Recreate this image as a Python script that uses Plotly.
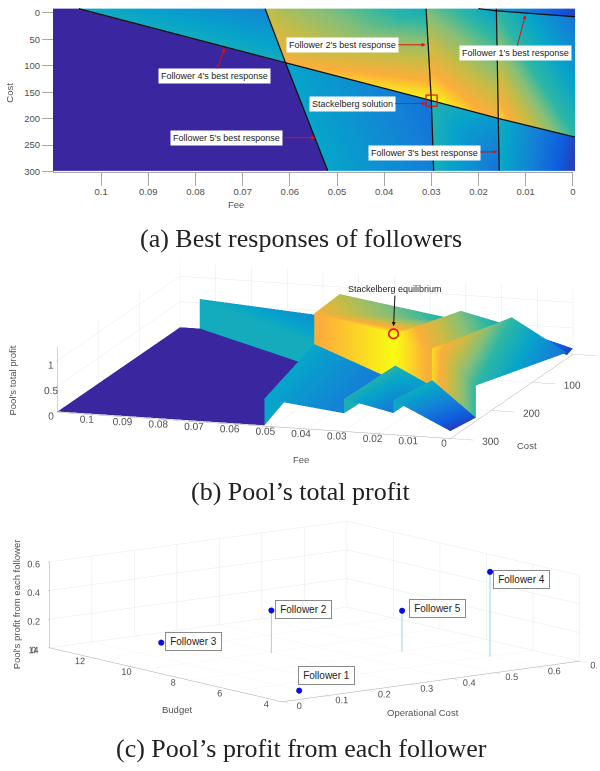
import plotly.graph_objects as go

# --- Regions of the (fee, cost) plane: corner readings of fee, cost, height, colour level
REGIONS = {
    "none":  dict(fee=[.11, .1045, .061, .0521, .11], cost=[0, 0, 100, 300, 300], z=[0, 0, 0, 0, 0], c=[0, 0, 0, 0, 0]),
    "r1":    dict(fee=[.1045, .0653, .061], cost=[0, 0, 100], z=[.58, .39, .48], c=[.42, .27, .42]),
    "r2":    dict(fee=[.0314, .0303, .061, .0653], cost=[0, 170, 100, 0], z=[.5, 1.18, 1.05, .86], c=[.42, 1.0, .86, .72]),
    "r3":    dict(fee=[.0166, .0162, .0303, .0314], cost=[0, 203, 170, 0], z=[.45, 1.0, 1.18, .69], c=[.36, .85, 1.0, .6]),
    "r4":    dict(fee=[.0166, 0, 0, .0162], cost=[5, 15, 237.7, 203], z=[.66, .1, .68, 1.14], c=[.5, .2, .5, .95]),
    "r5":    dict(fee=[.0166, 0, 0, .0166], cost=[0, 0, 15, 5], z=[.42, .1, .05, .4], c=[.35, .08, .05, .33]),
    "r6":    dict(fee=[.061, .0303, .0298, .0521], cost=[100, 170, 300, 300], z=[.45, .26, .34, .52], c=[.38, .2, .24, .38]),
    "r7":    dict(fee=[.0303, .0162, .016, .0298], cost=[170, 203, 300, 300], z=[.56, .4, .41, .62], c=[.47, .33, .2, .44]),
    "r8":    dict(fee=[.0162, 0, 0, .016], cost=[203, 237.7, 300, 300], z=[.52, .05, .13, .66], c=[.43, .08, .05, .4]),
}
# Vertical jumps between regions: fee, cost, top, bottom, colour level
WALLS = [
    dict(fee=[.1045, .061], cost=[0, 100], top=[.58, .48], bot=[0, 0], c=[.42, .42]),
    dict(fee=[.0653, .061], cost=[0, 100], top=[.86, 1.05], bot=[.39, .48], c=[.72, .86]),
    dict(fee=[.061, .0303], cost=[100, 170], top=[1.05, 1.18], bot=[.45, .26], c=[.86, 1.0]),
    dict(fee=[.0303, .0162], cost=[170, 203], top=[1.18, 1.0], bot=[.56, .4], c=[1.0, .85]),
    dict(fee=[.0162, 0], cost=[203, 237.7], top=[1.14, .68], bot=[.52, .05], c=[.95, .5]),
    dict(fee=[.061, .0521], cost=[100, 300], top=[.45, .52], bot=[0, 0], c=[.38, .38]),
    dict(fee=[.0303, .0298], cost=[170, 300], top=[.56, .62], bot=[.26, .34], c=[.47, .44]),
    dict(fee=[.0162, .016], cost=[203, 300], top=[.52, .66], bot=[.4, .41], c=[.43, .4]),
    dict(fee=[.0314, .0303], cost=[0, 170], top=[.69, 1.18], bot=[.5, 1.18], c=[.6, 1.0]),
    dict(fee=[.0166, .0162], cost=[5, 203], top=[.66, 1.14], bot=[.45, 1.0], c=[.5, .95]),
]
# Best-response curves
F1_FEE = [.0204, .0166, 0];               F1_COST = [0, 4, 15]
F2_FEE = [.0314, .0303, .0298];           F2_COST = [0, 170, 300]
F3_FEE = [.0166, .0162, .016];            F3_COST = [0, 203, 300]
F4_FEE = [.1045, .061, .0303, .0162, 0];  F4_COST = [0, 100, 170, 203, 237.7]
F5_FEE = [.0653, .061, .0521];            F5_COST = [0, 100, 300]
BEST_RESPONSES = [(F1_FEE, F1_COST), (F2_FEE, F2_COST), (F3_FEE, F3_COST), (F4_FEE, F4_COST), (F5_FEE, F5_COST)]
SOL_FEE = .0303; SOL_COST = 170; SOL_PROFIT = 1.18
# Marker in (b) nudged along the line of sight so the ring stays in front of the relief
EQ_FEE = .0296; EQ_COST = 181.2; EQ_PROFIT = 1.249

# Tick labels
FEE_TICKS = [.1, .09, .08, .07, .06, .05, .04, .03, .02, .01, 0]
FEE_TEXT = ["0.1", "0.09", "0.08", "0.07", "0.06", "0.05", "0.04", "0.03", "0.02", "0.01", "0"]

# Panel (a) labels: text, fee, cost at the arrow tip
LABELS_A = [
    ("Follower 1's best response", .0105, 12, -10, 38),
    ("Follower 2's best response", .0315, 66.7, -83, 0),
    ("Follower 3's best response", .0164, 264, -73, 1),
    ("Follower 4's best response", .0738, 73, -10, 28),
    ("Follower 5's best response", .0547, 238, -89, 0),
    ("Stackelberg solution", .0314, 175, -74, 0),
]
# Panel (c)
FOLLOWERS = ["Follower 1", "Follower 2", "Follower 3", "Follower 4", "Follower 5"]
OP_COST = [.097, .295, .199, .596, .498]
BUDGET = [5.04, 9.85, 12.83, 5.95, 7.94]
PROFIT = [0, .298, 0, .593, .286]

PARULA = [[0, "#3a27a0"], [.125, "#0f5cdd"], [.25, "#1481d6"], [.375, "#06a4ca"], [.5, "#2eb7a4"],
          [.625, "#87bf77"], [.75, "#c8bc45"], [.875, "#fcae3a"], [1, "#fafb12"]]
GREY = "#505050"
LINE = "#a8a8a8"
GRID = "#e9e9e9"
SANS = "Liberation Sans"
FLAT = dict(ambient=1, diffuse=0, specular=0, roughness=1, fresnel=0)


def mesh(polys, scene):
    x, y, z, c, i, j, k = [], [], [], [], [], [], []
    for p in polys:
        n0 = len(x)
        x += p["fee"]; y += p["cost"]; z += p["z"]; c += p["c"]
        for t in range(1, len(p["fee"]) - 1):
            i.append(n0); j.append(n0 + t); k.append(n0 + t + 1)
    return go.Mesh3d(x=x, y=y, z=z, i=i, j=j, k=k, intensity=c, intensitymode="vertex", colorscale=PARULA,
                     cmin=0, cmax=1, showscale=False, lighting=FLAT, flatshading=False, hoverinfo="skip", scene=scene)


def px_note(text, x, y, size=9.5, angle=0, color=GREY, family=SANS):
    return dict(text=text, x=x / 600, y=1 - y / 771, xref="paper", yref="paper", showarrow=False, xanchor="center",
                yanchor="middle", textangle=angle, font=dict(size=size, color=color, family=family))


def camera(view, centre, up=(0, 0, 1)):
    # the eye moves with the centre, so the line of sight stays the same
    return dict(eye=dict(x=centre[0] + view[0], y=centre[1] + view[1], z=centre[2] + view[2]),
                center=dict(x=centre[0], y=centre[1], z=centre[2]), up=dict(x=up[0], y=up[1], z=up[2]),
                projection=dict(type="orthographic"))


fig = go.Figure()

# (a) flat map
flat = [dict(fee=r["fee"], cost=r["cost"], z=[0] * len(r["fee"]), c=r["c"]) for r in REGIONS.values()]
fig.add_trace(mesh(flat, "scene"))
for fx, fy in BEST_RESPONSES:
    fig.add_trace(go.Scatter3d(x=fx, y=fy, z=[.5] * len(fx), mode="lines", line=dict(color="#111111", width=2.5),
                               hoverinfo="skip", scene="scene", showlegend=False))
fig.add_trace(go.Scatter3d(x=[SOL_FEE], y=[SOL_COST], z=[.6], mode="markers", scene="scene", showlegend=False,
                           marker=dict(symbol="square-open", size=5, color="#e01010", line=dict(color="#e01010", width=2))))
# axes for (a)
fig.add_trace(go.Scatter(x=[None], y=[None], showlegend=False, hoverinfo="skip"))

# (b) relief
polys = [dict(r) for r in REGIONS.values()]
for w in WALLS:
    polys.append(dict(fee=w["fee"] + w["fee"][::-1], cost=w["cost"] + w["cost"][::-1],
                      z=w["top"] + w["bot"][::-1], c=w["c"] + w["c"][::-1]))
fig.add_trace(mesh(polys, "scene2"))
fig.add_trace(go.Scatter3d(x=[EQ_FEE], y=[EQ_COST], z=[EQ_PROFIT], mode="markers", scene="scene2", showlegend=False,
                           marker=dict(symbol="circle-open", size=6, color="#e01010", line=dict(color="#e01010", width=2))))

# (c) stems
for xv, yv, zv in zip(OP_COST, BUDGET, PROFIT):
    fig.add_trace(go.Scatter3d(x=[xv, xv], y=[yv, yv], z=[0, zv], mode="lines", scene="scene3", showlegend=False,
                               line=dict(color="#9fd0ea", width=2), hoverinfo="skip"))
fig.add_trace(go.Scatter3d(x=OP_COST, y=BUDGET, z=PROFIT, mode="markers", scene="scene3", showlegend=False,
                           marker=dict(size=3.5, color="#0a0aee")))


def axis3(**kw):
    a = dict(title=dict(text=""), showbackground=False, showgrid=True, gridcolor=GRID, gridwidth=1, zeroline=False,
             showline=True, linecolor=LINE, ticks="outside", ticklen=10, tickcolor=LINE, showspikes=False, tickangle=0,
             tickfont=dict(size=11, color=GREY, family=SANS))
    a.update(kw)
    return a


HID = dict(visible=False)
note_font = dict(size=9, color="#222222", family=SANS)
box_font = dict(size=10, color="#222222", family=SANS)
small_ticks = dict(size=10.5, color=GREY, family=SANS)
scene_a_notes = [dict(text=t, x=f, y=c, z=.6, ax=a, ay=b, showarrow=True, arrowhead=2, arrowsize=.8, arrowwidth=1,
                      arrowcolor="#e01010", bgcolor="white", borderpad=2, font=note_font)
                 for t, f, c, a, b in LABELS_A]
scene_b_notes = [dict(text="Stackelberg equilibrium", x=EQ_FEE, y=EQ_COST, z=EQ_PROFIT, ax=2, ay=-44, showarrow=True,
                      arrowhead=2, arrowsize=.8, arrowwidth=1, arrowcolor="#111111", standoff=7, font=note_font)]
offs = [(27, -15), (32, -1), (32, -1), (32, 8), (35, -2)]
scene_c_notes = [dict(text=n, x=a, y=b, z=c, showarrow=False, xshift=dx, yshift=-dy, bgcolor="white", bordercolor="#8a8a8a",
                      borderwidth=1, borderpad=3, width=49, height=11, font=box_font)
                 for n, a, b, c, (dx, dy) in zip(FOLLOWERS, OP_COST, BUDGET, PROFIT, offs)]

fig.update_layout(
    width=600, height=771, margin=dict(l=0, r=0, t=0, b=0), paper_bgcolor="white", plot_bgcolor="rgba(0,0,0,0)",
    showlegend=False,
    xaxis=dict(domain=[54.3 / 600, 575.7 / 600], range=[.11, 0], tickvals=FEE_TICKS, ticktext=FEE_TEXT, ticks="outside", ticklen=13,
               tickcolor=LINE, showline=True, linecolor=LINE, showgrid=False, zeroline=False, ticklabelstandoff=-2,
               tickfont=dict(size=9.5, color=GREY, family=SANS), anchor="y"),
    yaxis=dict(domain=[1 - 168 / 771, 1 - 7 / 771], range=[300, 0], dtick=50, ticks="outside", ticklen=11, tickcolor=LINE,
               showline=True, linecolor=LINE, showgrid=False, zeroline=False,
               tickfont=dict(size=9.5, color=GREY, family=SANS), anchor="x"),
    scene=dict(domain=dict(x=[31 / 600, 1], y=[1 - 176 / 771, 1]), xaxis=dict(range=[0, .11], **HID),
               yaxis=dict(range=[0, 300], **HID), zaxis=dict(range=[0, 1], **HID), bgcolor="rgba(0,0,0,0)",
               aspectmode="manual", aspectratio=dict(x=6.04, y=1.875, z=.1),
               camera=camera((0, 0, 1), (0, .032, 0), up=(0, -1, 0)),
               annotations=scene_a_notes),
    scene2=dict(domain=dict(x=[0, 1], y=[1 - 457 / 771, 1 - 241 / 771]),
                xaxis=axis3(range=[0, .11], tickvals=FEE_TICKS, ticktext=FEE_TEXT, ticklen=24),
                yaxis=axis3(range=[0, 300], dtick=100, ticklen=4), zaxis=axis3(range=[-.015, 1.27], tickvals=[0, .5, 1], ticklen=6),
                bgcolor="rgba(0,0,0,0)", aspectmode="manual", aspectratio=dict(x=3.865, y=3.865, z=.63),
                camera=camera((-.291 * 4, .9324 * 4, .2145 * 4), (.15, .047, 0)),
                annotations=scene_b_notes),
    scene3=dict(domain=dict(x=[0, 1], y=[1 - 722 / 771, 1 - 506 / 771]),
                xaxis=axis3(range=[0, .7], dtick=.1, tick0=0, ticklen=2, tickfont=small_ticks),
                yaxis=axis3(range=[4, 14], dtick=2, tick0=4, tickfont=small_ticks),
                zaxis=axis3(range=[0, .6], dtick=.2, tick0=0, ticklen=1, tickfont=small_ticks), bgcolor="rgba(0,0,0,0)",
                aspectmode="manual", aspectratio=dict(x=3.52, y=3.59, z=.82),
                camera=camera((-.599 * 4, -.781 * 4, .178 * 4), (-.119, .0915, 0)),
                annotations=scene_c_notes),
    annotations=[
        px_note("Fee", 237, 201), px_note("Cost", 10, 88, angle=-90),
        px_note("Pool's total profit", 13, 380, angle=-90), px_note("Fee", 303, 460), px_note("Cost", 530, 446),
        px_note("Pool's profit from each follower", 16, 607, angle=-90), px_note("Budget", 178, 714),
        px_note("Operational Cost", 425, 717),
        px_note("(a) Best responses of followers", 303, 236, size=26, color="#222222", family="Liberation Serif"),
        px_note("(b) Pool’s total profit", 303, 493, size=26, color="#222222", family="Liberation Serif"),
        px_note("(c) Pool’s profit from each follower", 303, 753, size=26, color="#222222", family="Liberation Serif"),
    ],
)
fig.write_html("out.html", config=dict(displayModeBar=False), post_script="document.body.style.margin='0';")
